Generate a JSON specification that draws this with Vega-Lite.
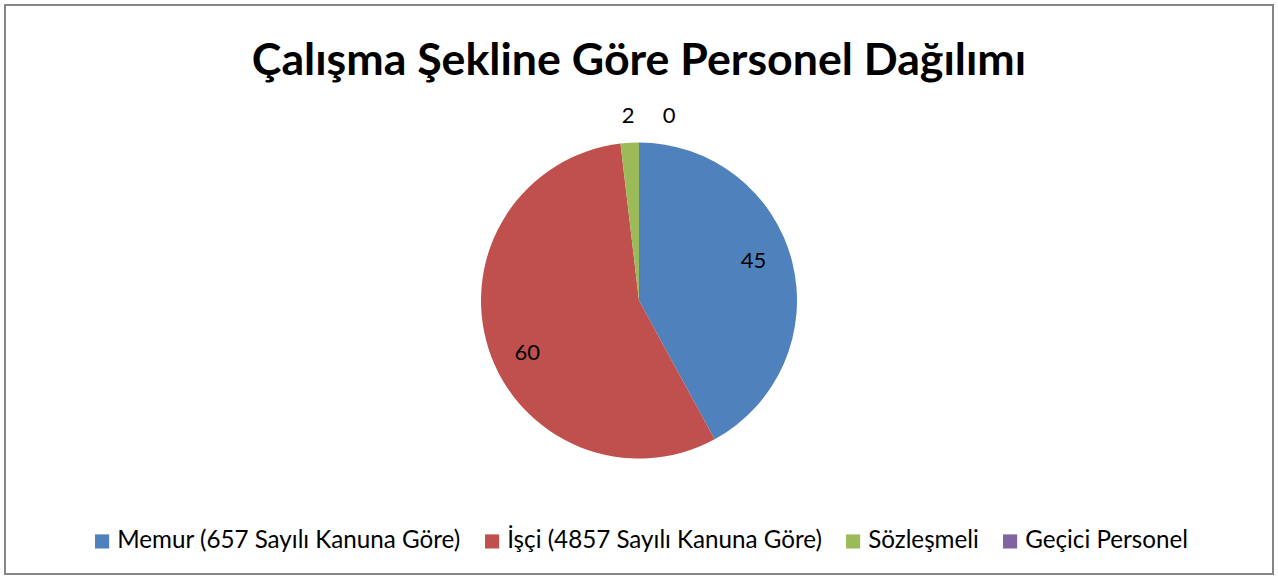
{
  "$schema": "https://vega.github.io/schema/vega-lite/v6.json",
  "width": 1268,
  "height": 569,
  "autosize": {"type": "none"},
  "padding": 5,
  "background": "white",
  "config": {
    "view": {"stroke": null},
    "font": "Lato"
  },
  "title": {
    "text": "Çalışma Şekline Göre Personel Dağılımı",
    "font": "Lato",
    "fontSize": 44.7,
    "fontWeight": "bold",
    "color": "black",
    "anchor": "middle",
    "offset": -93,
    "dy": -12
  },
  "data": {
    "values": [
      {"kategori": "Memur (657 Sayılı Kanuna Göre)", "sayi": 45, "sira": 1},
      {"kategori": "İşçi (4857 Sayılı Kanuna Göre)", "sayi": 60, "sira": 2},
      {"kategori": "Sözleşmeli", "sayi": 2, "sira": 3},
      {"kategori": "Geçici Personel", "sayi": 0, "sira": 4}
    ]
  },
  "resolve": {"scale": {"theta": "independent"}},
  "layer": [
    {
      "mark": {"type": "rect", "fill": null, "fillOpacity": 0, "stroke": "#868686", "strokeWidth": 2},
      "encoding": {}
    },
    {
      "mark": {"type": "arc", "outerRadius": 158, "y": {"expr": "height/2 + 11"}},
      "encoding": {
        "theta": {"field": "sayi", "type": "quantitative", "stack": true},
        "order": {"field": "sira", "type": "quantitative"},
        "color": {
          "field": "kategori",
          "type": "nominal",
          "sort": ["Memur (657 Sayılı Kanuna Göre)", "İşçi (4857 Sayılı Kanuna Göre)", "Sözleşmeli", "Geçici Personel"],
          "scale": {
            "domain": ["Memur (657 Sayılı Kanuna Göre)", "İşçi (4857 Sayılı Kanuna Göre)", "Sözleşmeli", "Geçici Personel"],
            "range": ["#4F81BD", "#C0504D", "#9BBB59", "#8064A2"]
          },
          "legend": {
            "title": null,
            "orient": "none",
            "direction": "horizontal",
            "legendX": 85,
            "legendY": 524,
            "symbolType": "square",
            "symbolSize": 200,
            "symbolStrokeWidth": 0,
            "labelFont": "Lato",
            "labelFontSize": 24.2,
            "labelColor": "black",
            "labelLimit": 0,
            "columnPadding": 19,
            "labelOffset": 3
          }
        }
      }
    },
    {
      "mark": {"type": "text", "radius": 122, "dy": 3, "fontSize": 22, "font": "Lato", "color": "black", "y": {"expr": "height/2 + 11"}},
      "encoding": {
        "theta": {"field": "sayi", "type": "quantitative", "stack": true, "scale": {"range": [-0.105, 6.178]}},
        "order": {"field": "sira", "type": "quantitative"},
        "text": {"condition": {"test": "datum.sayi >= 10", "field": "sayi", "type": "quantitative"}, "value": ""}
      }
    },
    {
      "mark": {"type": "text", "radius": 185, "fontSize": 22, "font": "Lato", "color": "black", "y": {"expr": "height/2 + 11"}},
      "encoding": {
        "theta": {"field": "sayi", "type": "quantitative", "stack": true},
        "order": {"field": "sira", "type": "quantitative"},
        "text": {"condition": {"test": "datum.sayi > 0 && datum.sayi < 10", "field": "sayi", "type": "quantitative"}, "value": ""}
      }
    },
    {
      "mark": {"type": "text", "radius": 185, "dx": 30, "fontSize": 22, "font": "Lato", "color": "black", "y": {"expr": "height/2 + 11"}},
      "encoding": {
        "theta": {"field": "sayi", "type": "quantitative", "stack": true},
        "order": {"field": "sira", "type": "quantitative"},
        "text": {"condition": {"test": "datum.sayi == 0", "field": "sayi", "type": "quantitative"}, "value": ""}
      }
    }
  ]
}
